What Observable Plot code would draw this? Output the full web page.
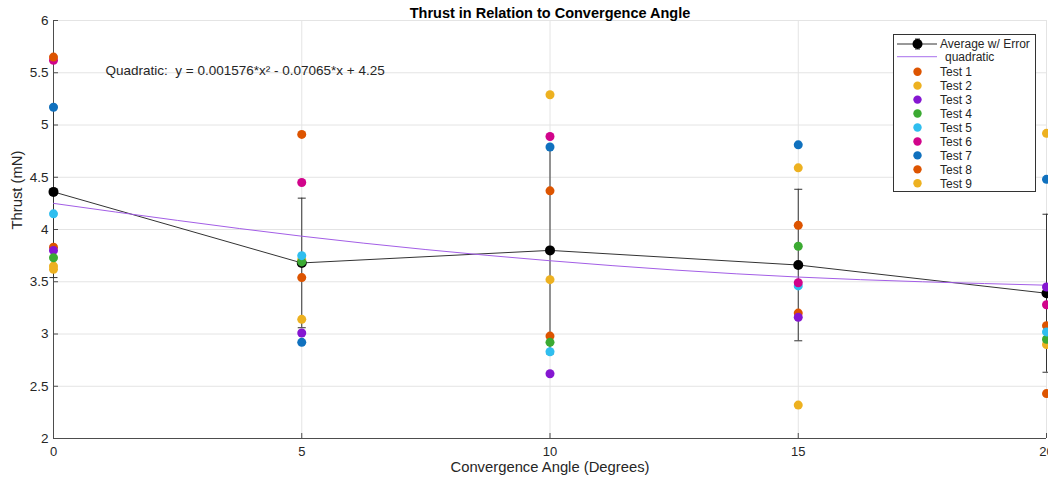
<!DOCTYPE html>
<html><head><meta charset="utf-8">
<script src="https://cdn.jsdelivr.net/npm/d3@7"></script>
<script src="https://cdn.jsdelivr.net/npm/@observablehq/plot@0.6"></script>
<style>
body{margin:0;background:#fff;font-family:"Liberation Sans",Arial,sans-serif;}
#wrap{position:relative;width:1048px;height:481px;overflow:hidden;background:#fff;}
#legend{position:absolute;left:893px;top:34px;}
</style></head><body><div id="wrap"></div>
<script>
// ---- data ----
const angles = [0, 5, 10, 15, 20];
const testNames = ["Test 1","Test 2","Test 3","Test 4","Test 5","Test 6","Test 7","Test 8","Test 9"];
const test1 = [3.83, 3.54, 2.98, 3.20, 3.08];
const test2 = [3.65, 3.71, 5.29, 4.59, 2.90];
const test3 = [3.80, 3.01, 2.62, 3.16, 3.45];
const test4 = [3.73, 3.69, 2.92, 3.84, 2.95];
const test5 = [4.15, 3.75, 2.83, 3.46, 3.02];
const test6 = [5.62, 4.45, 4.89, 3.49, 3.28];
const test7 = [5.17, 2.92, 4.79, 4.81, 4.48];
const test8 = [5.65, 4.91, 4.37, 4.04, 2.43];
const test9 = [3.62, 3.14, 3.52, 2.32, 4.92];
const average = [4.36, 3.68, 3.80, 3.66, 3.39];
const errorBar = [0.82, 0.62, 0.99, 0.725, 0.756];
const fitAngles = [0, 5, 10, 15, 20];
const fitThrust = [4.25, 3.936, 3.701, 3.545, 3.467];
const xTicks = [0, 5, 10, 15, 20];
const yTicks = [2, 2.5, 3, 3.5, 4, 4.5, 5, 5.5, 6];
const testColors = ["#DD5400","#EDB120","#8516D1","#3BAA32","#2FBEEF","#D1048B","#1071BE","#DD5400","#EDB120"];
const titleText = "Thrust in Relation to Convergence Angle";
const xLabel = "Convergence Angle (Degrees)";
const yLabel = "Thrust (mN)";
const equation = "Quadratic:  y = 0.001576*x\u00B2 - 0.07065*x + 4.25";
const avgLabel = "Average w/ Error";
const fitLabel = "quadratic";

// ---- tables ----
const tests = [test1,test2,test3,test4,test5,test6,test7,test8,test9];
const points = [];
tests.forEach((vals, t) => vals.forEach((v, i) => points.push({test: testNames[t], angle: angles[i], thrust: v})));
const avgData = angles.map((a, i) => ({angle: a, avg: average[i], lo: average[i] - errorBar[i], hi: average[i] + errorBar[i]}));
const capData = avgData.flatMap(d => [{angle: d.angle, v: d.lo}, {angle: d.angle, v: d.hi}]);
const fitData = fitAngles.map((a, i) => ({angle: a, thrust: fitThrust[i]}));

const capSymbol = {draw(ctx, size){ const w = Math.sqrt(size / Math.PI); ctx.moveTo(-w, 0); ctx.lineTo(w, 0); }};

const W = 1048, H = 481, mL = 53, mR = 2, mT = 20, mB = 43;
const axisColor = "#4d4d4d", gridColor = "#e4e4e4", textColor = "#262626";

const chart = Plot.plot({
  width: W, height: H,
  marginLeft: mL, marginRight: mR, marginTop: mT, marginBottom: mB,
  style: {fontFamily: "'Liberation Sans', Arial, sans-serif", fontSize: "13px", color: textColor, background: "white", overflow: "visible"},
  x: {domain: [0, 20], label: null},
  y: {domain: [2, 6], label: null},
  color: {domain: testNames, range: testColors},
  marks: [
    Plot.ruleY(yTicks, {y: d => d, stroke: gridColor}),
    Plot.ruleX(xTicks, {x: d => d, stroke: gridColor}),
    Plot.axisY({ticks: yTicks, tickSize: 0, tickPadding: 5, tickFormat: d => String(d), label: null, fontSize: 13.5, fill: textColor}),
    Plot.axisX({ticks: xTicks, tickSize: 0, tickPadding: 8, tickFormat: d => String(d), label: null, fontSize: 13, fill: textColor}),
    Plot.tickY(yTicks, {y: d => d, insetRight: W - mL - mR - 5, stroke: axisColor}),
    Plot.tickX(xTicks, {x: d => d, insetTop: H - mT - mB - 5, stroke: axisColor}),
    Plot.ruleX([0], {x: d => d, stroke: axisColor}),
    Plot.ruleY([2], {y: d => d, stroke: axisColor}),
    // average with error
    Plot.line(avgData, {x: "angle", y: "avg", stroke: "#333", strokeWidth: 1}),
    Plot.ruleX(avgData, {x: "angle", y1: "lo", y2: "hi", stroke: "#333", strokeWidth: 1}),
    Plot.dot(capData, {x: "angle", y: "v", symbol: capSymbol, r: 4, stroke: "#333", fill: "none", strokeWidth: 1}),
    Plot.dot(avgData, {x: "angle", y: "avg", r: 5, fill: "black", stroke: "none"}),
    // quadratic fit
    Plot.line(fitData, {x: "angle", y: "thrust", curve: "natural", stroke: "#a35ee6", strokeWidth: 1}),
    // tests
    Plot.dot(points, {x: "angle", y: "thrust", fill: "test", r: 4.5, stroke: "none"}),
    // texts
    Plot.text([titleText], {text: d => d, frameAnchor: "top", lineAnchor: "middle", dy: -7, fontWeight: "bold", fontSize: 14.5, fill: "#000"}),
    Plot.text([equation], {text: d => d, frameAnchor: "top-left", lineAnchor: "middle", dx: 52, dy: 50, textAnchor: "start", fontSize: 13.5, fill: textColor}),
    Plot.text([xLabel], {text: d => d, frameAnchor: "bottom", lineAnchor: "middle", dy: 29, fontSize: 14.8, fill: textColor}),
    Plot.text([yLabel], {text: d => d, frameAnchor: "left", lineAnchor: "middle", dx: -36, rotate: -90, fontSize: 14.8, fill: textColor})
  ]
});
const wrap = document.getElementById("wrap");
wrap.appendChild(chart);

// ---- legend ----
const lg = d3.select(wrap).append("svg").attr("id", "legend").attr("width", 144).attr("height", 159)
  .style("font-family", "'Liberation Sans', Arial, sans-serif").style("font-size", "12px");
lg.append("rect").attr("x", 0.5).attr("y", 0.5).attr("width", 142).attr("height", 157).attr("fill", "white").attr("stroke", "#333");
// average row
const r0 = 10;
lg.append("line").attr("x1", 4).attr("x2", 44).attr("y1", r0).attr("y2", r0).attr("stroke", "#333");
lg.append("line").attr("x1", 24.5).attr("x2", 24.5).attr("y1", r0 - 5).attr("y2", r0 + 5).attr("stroke", "#333");
lg.append("line").attr("x1", 22).attr("x2", 27).attr("y1", r0 - 5).attr("y2", r0 - 5).attr("stroke", "#333");
lg.append("line").attr("x1", 22).attr("x2", 27).attr("y1", r0 + 5).attr("y2", r0 + 5).attr("stroke", "#333");
lg.append("circle").attr("cx", 24.5).attr("cy", r0).attr("r", 5).attr("fill", "black");
lg.append("text").attr("x", 47).attr("y", r0).attr("dy", "0.35em").attr("fill", textColor).text(avgLabel);
// fit row
const r1 = 22.7;
lg.append("line").attr("x1", 4).attr("x2", 44).attr("y1", r1).attr("y2", r1).attr("stroke", "#b98cf0").attr("stroke-width", 1.2);
lg.append("text").attr("x", 52).attr("y", r1).attr("dy", "0.35em").attr("fill", textColor).text(fitLabel);
// test rows
testNames.forEach((name, i) => {
  const y = 37.7 + i * 13.95;
  lg.append("circle").attr("cx", 24.5).attr("cy", y).attr("r", 4.2).attr("fill", testColors[i]);
  lg.append("text").attr("x", 47).attr("y", y).attr("dy", "0.35em").attr("fill", textColor).text(name);
});
</script>
</body></html>
